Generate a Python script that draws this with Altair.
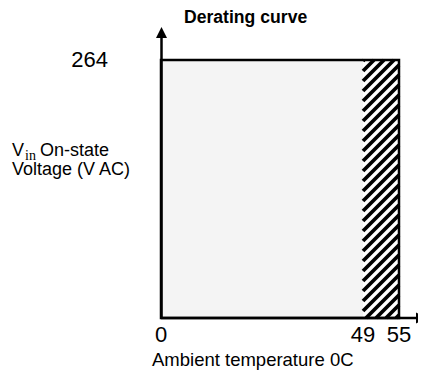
import altair as alt
import pandas as pd

# ---- data ----
x_ticks = [0, 49, 55]          # ambient temperature ticks
y_ticks = [264]                # voltage tick
temp_min = 0
derate_start = 49
temp_max = 55
v_min = 0
v_max = 264

title_text = "Derating curve"
x_title = "Ambient temperature 0C"
y_title_v = "V"
y_title_sub = "in"
y_title_rest = "On-state"
y_title_line2 = "Voltage (V AC)"

# ---- layout ----
PW, PH = 257, 298
FONT = "Liberation Sans"
x_scale = alt.Scale(domain=[0, 49, 55], range=[0, 202, 238], nice=False, zero=False)
y_scale = alt.Scale(domain=[0, 264], range=[298, 40], nice=False, zero=False)

area_df = pd.DataFrame({"x": [temp_min], "x2": [temp_max], "y": [v_min], "y2": [v_max]})
hatch_df = pd.DataFrame({"x": [derate_start], "x2": [temp_max], "y": [v_min], "y2": [v_max]})
xtick_df = pd.DataFrame({"v": x_ticks})
ytick_df = pd.DataFrame({"v": y_ticks})

# hatch stripes (decoration) in pixel space of the hatched box, mapped to data units
box_w = 238 - 202
box_h = 298 - 40
period = 10
rows = []
c = -box_w + 3
while c < box_h:
    xp0 = max(0, -c)
    xp1 = min(box_w, box_h - c)
    if xp1 > xp0:
        rows.append({
            "x": derate_start + xp0 * (temp_max - derate_start) / box_w,
            "x2": derate_start + xp1 * (temp_max - derate_start) / box_w,
            "y": (xp0 + c) * v_max / box_h,
            "y2": (xp1 + c) * v_max / box_h,
        })
    c += period
stripes_df = pd.DataFrame(rows)

X = lambda f: alt.X(f, type="quantitative", scale=x_scale, axis=None)
Y = lambda f: alt.Y(f, type="quantitative", scale=y_scale, axis=None)

base_area = alt.Chart(area_df).mark_rect(fill="#f4f4f4").encode(
    x=X("x"), x2="x2", y=Y("y"), y2="y2")

hatch_bg = alt.Chart(hatch_df).mark_rect(fill="white").encode(
    x=X("x"), x2="x2", y=Y("y"), y2="y2")

stripes = alt.Chart(stripes_df).mark_rule(color="black", strokeWidth=3.8, strokeCap="butt").encode(
    x=X("x"), x2="x2", y=Y("y"), y2="y2")

border = alt.Chart(area_df).mark_rect(fillOpacity=0, stroke="black", strokeWidth=2.5).encode(
    x=X("x"), x2="x2", y=Y("y"), y2="y2")

one = pd.DataFrame({"a": [0]})
y_axis_line = alt.Chart(one).mark_rule(color="black", strokeWidth=2.5).encode(
    x=alt.value(0.5), y=alt.value(PH), y2=alt.value(14))
x_axis_line = alt.Chart(one).mark_rule(color="black", strokeWidth=2.5).encode(
    x=alt.value(0), x2=alt.value(PW), y=alt.value(PH))

up_arrow = alt.Chart(one).mark_point(
    shape="M0,-1L1,1L-1,1Z", size=121, filled=True, fill="black", opacity=1
).encode(x=alt.value(0.5), y=alt.value(12.5))
right_arrow = alt.Chart(one).mark_point(
    shape="M1,0L-1,-1L-1,1Z", size=121, filled=True, fill="black", opacity=1
).encode(x=alt.value(260.5), y=alt.value(PH))

x_tick_labels = alt.Chart(xtick_df).mark_text(
    font=FONT, fontSize=22, align="center", baseline="top", color="black"
).encode(x=X("v"), y=alt.value(PH + 7), text="v:Q")

y_tick_labels = alt.Chart(ytick_df).mark_text(
    font=FONT, fontSize=22, align="right", baseline="middle", color="black"
).encode(y=Y("v"), x=alt.value(-53), text="v:Q")


def label(text, x, y, size, font=FONT, weight="normal", align="left", baseline="alphabetic"):
    return alt.Chart(pd.DataFrame({"t": [text]})).mark_text(
        font=font, fontSize=size, fontWeight=weight, align=align, baseline=baseline, color="black"
    ).encode(x=alt.value(x), y=alt.value(y), text="t:N")


texts = [
    label(title_text, 23, 3, 17.6, weight="bold"),
    label(x_title, -9, 346, 18.5),
    label(y_title_v, -149, 136, 18),
    label(y_title_sub, -136, 140, 14, font="Liberation Serif"),
    label(y_title_rest, -121, 136, 18),
    label(y_title_line2, -149, 155, 18),
]

chart = alt.layer(
    base_area, hatch_bg, stripes, border, y_axis_line, x_axis_line, up_arrow, right_arrow,
    x_tick_labels, y_tick_labels, *texts
).properties(
    width=PW, height=PH,
    padding={"left": 153, "top": 12, "right": 0, "bottom": 54},
    autosize=alt.AutoSizeParams(type="none"),
).configure_view(stroke=None)

chart.save("out.html", embed_options={"renderer": "svg", "actions": False})
